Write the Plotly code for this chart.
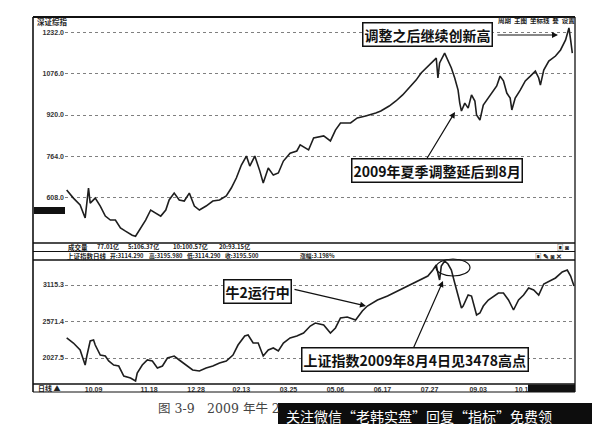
import plotly.graph_objects as go

# ---------------- data ----------------
# upper panel: 深证综指 (trading-day index, close)
upper_day = [1, 5, 9, 12, 14, 15, 18, 21, 24, 27,
             30, 33, 36, 40, 42, 45, 48, 51, 54, 57,
             60, 62, 65, 68, 71, 74, 77, 80, 84, 88,
             92, 96, 99, 102, 105, 108, 110, 113, 116, 118,
             121, 124, 127, 130, 134, 138, 140, 145, 148, 154,
             158, 161, 164, 170, 174, 179, 185, 188, 193, 197,
             201, 205, 209, 212, 215, 219, 221, 222, 223, 226,
             228, 230, 232, 234, 235, 236, 238, 240, 242, 244,
             245, 247, 249, 253, 257, 259, 261, 263, 265, 266,
             268, 271, 274, 277, 280, 282, 283, 285, 288, 292,
             295, 298, 300, 301, 302]
upper_val = [637, 606, 580, 531, 644, 587, 606, 576, 538, 523,
             523, 493, 481, 466, 462, 493, 523, 561, 550, 538,
             561, 599, 625, 599, 595, 625, 576, 561, 576, 595,
             599, 614, 644, 682, 731, 765, 727, 765, 708, 663,
             720, 693, 701, 746, 776, 784, 807, 788, 833, 841,
             822, 863, 890, 890, 909, 916, 928, 935, 954, 973,
             996, 1022, 1052, 1079, 1098, 1124, 1135, 1060, 1117, 1154,
             1128, 1098, 1060, 1014, 965, 935, 965, 946, 996, 973,
             920, 901, 958, 992, 1030, 1067, 1049, 1003, 984, 939,
             984, 1014, 1049, 1067, 1086, 1060, 1033, 1090, 1124, 1143,
             1166, 1204, 1249, 1204, 1154]

# lower panel: 上证指数 (trading-day index, close)
lower_day = [1, 5, 9, 12, 13, 15, 17, 18, 21, 24,
             26, 29, 32, 35, 39, 42, 43, 46, 49, 52,
             55, 58, 61, 65, 68, 72, 76, 80, 84, 88,
             92, 96, 100, 103, 107, 109, 112, 115, 118, 121,
             124, 127, 130, 134, 138, 142, 146, 149, 154, 158,
             161, 164, 168, 173, 177, 180, 186, 192, 198, 204,
             210, 216, 219, 221, 222, 223, 224, 226, 228, 230,
             232, 234, 236, 237, 240, 242, 245, 247, 249, 252,
             255, 258, 261, 264, 267, 270, 273, 276, 279, 282,
             285, 289, 292, 296, 299, 301, 303]
lower_val = [2326, 2251, 2147, 1923, 2057, 2281, 2296, 2221, 2072, 2057,
             1983, 1923, 1908, 1759, 1730, 1685, 1804, 1923, 1998, 1983,
             1879, 1908, 2028, 2057, 1998, 1923, 1849, 1834, 1879, 1908,
             1953, 1983, 2072, 2221, 2355, 2370, 2251, 2251, 2057, 2147,
             2177, 2132, 2251, 2326, 2355, 2400, 2504, 2549, 2519, 2400,
             2475, 2624, 2639, 2594, 2728, 2802, 2892, 2951, 3026, 3100,
             3175, 3249, 3339, 3413, 3294, 3190, 3398, 3473, 3428, 3339,
             3145, 2951, 2773, 2802, 2966, 2951, 2668, 2698, 2802, 2892,
             2951, 2996, 2996, 2892, 2743, 2892, 2966, 3071, 3041, 2966,
             3130, 3175, 3220, 3309, 3339, 3249, 3100]

upper_ticks = [1232.0, 1076.0, 920.0, 764.0, 608.0]
upper_tick_text = ["1232.0", "1076.0", "920.0", "764.0", "608.0"]
lower_ticks = [3115.3, 2571.4, 2027.5]
lower_tick_text = ["3115.3", "2571.4", "2027.5"]
date_ticks = [17, 50, 78, 105, 133, 161, 189, 217, 246, 273]
date_labels = ["10.09", "11.18", "12.28", "02.13", "03.25", "05.06",
               "06.17", "07.27", "09.03", "10.19"]

# ---------------- layout helpers ----------------
W, H = 600, 424
def px(x):
    return x / W
def py(y):
    return 1 - y / H

LINE = dict(color="#1e1e1e", width=1.6)
CJK = "Noto Sans CJK SC, sans-serif"
SMALL = dict(family="Liberation Sans, Arial, sans-serif", size=7, color="#333", weight="bold")

fig = go.Figure()
fig.add_trace(go.Scatter(x=upper_day, y=upper_val, mode="lines", line=LINE,
                         xaxis="x", yaxis="y", hoverinfo="skip"))
fig.add_trace(go.Scatter(x=lower_day, y=lower_val, mode="lines", line=LINE,
                         xaxis="x2", yaxis="y2", hoverinfo="skip"))

XR = [0, 303.6]
grid = dict(showgrid=True, gridcolor="#808080", griddash="dot", gridwidth=1,
            zeroline=False, showline=False, ticks="")
fig.update_layout(
    width=W, height=H, margin=dict(l=0, r=0, t=0, b=0),
    paper_bgcolor="white", plot_bgcolor="white", showlegend=False,
    font=dict(family=CJK, color="#222"),
    xaxis=dict(domain=[px(57), px(567)], range=XR, anchor="y", showticklabels=False,
               showgrid=False, zeroline=False, showline=False, ticks=""),
    yaxis=dict(domain=[py(234), py(10)], range=[440.1, 1286.7], tickvals=upper_ticks,
               ticktext=upper_tick_text, tickfont=SMALL, **grid),
    xaxis2=dict(domain=[px(57), px(567)], range=XR, anchor="y2", tickvals=date_ticks,
                ticktext=date_labels, tickfont=SMALL, showgrid=False, zeroline=False,
                showline=False, ticks=""),
    yaxis2=dict(domain=[py(376), py(252)], range=[1640.2, 3487.8], tickvals=lower_ticks,
                ticktext=lower_tick_text, tickfont=SMALL, **grid),
)

shapes = []
def hline(y, w=1.3, x0=25, x1=567):
    shapes.append(dict(type="line", xref="paper", yref="paper", x0=px(x0), x1=px(x1),
                       y0=py(y), y1=py(y), line=dict(color="#111", width=w)))
def vline(x, y0, y1, w=1.3):
    shapes.append(dict(type="line", xref="paper", yref="paper", x0=px(x), x1=px(x),
                       y0=py(y0), y1=py(y1), line=dict(color="#111", width=w)))
def rect(x0, y0, x1, y1, fill="#111", line=None):
    shapes.append(dict(type="rect", xref="paper", yref="paper", x0=px(x0), x1=px(x1),
                       y0=py(y0), y1=py(y1), fillcolor=fill,
                       line=dict(width=0) if line is None else line))

hline(9, 2)
hline(235, 1.5)
hline(243.5, 1)
hline(252, 1.5)
hline(376, 1.5)
hline(384, 1.2)
vline(25, 9, 384, 1.6)
vline(567, 9, 384, 1.3)
rect(26, 199, 57, 206)            # current value marker
rect(520, 376.5, 567, 384)        # bottom-right bar
shapes.append(dict(type="circle", xref="paper", yref="paper", x0=px(428), x1=px(462),
                   y0=py(268), y1=py(251), line=dict(color="#111", width=1.2)))
rect(270, 395, 600, 424, fill="#0d0d0d")   # watermark band
fig.update_layout(shapes=shapes)

ann = []
def text(x, y, s, size=7, color="#222", anchor="left", family=None, weight="bold"):
    ann.append(dict(xref="paper", yref="paper", x=px(x), y=py(y), text=s, showarrow=False,
                    xanchor=anchor, yanchor="middle",
                    font=dict(size=size, color=color, family=family or CJK, weight=weight)))
def box(x, y, s):
    ann.append(dict(xref="paper", yref="paper", x=px(x), y=py(y), text=s, showarrow=False,
                    xanchor="center", yanchor="middle", bgcolor="white",
                    bordercolor="#111", borderwidth=1.5, borderpad=1,
                    font=dict(size=14, color="#111", family=CJK, weight="bold")))
def arrow(hx, hy, tx, ty):
    ann.append(dict(xref="paper", yref="paper", x=px(hx), y=py(hy), ax=tx - hx, ay=ty - hy,
                    text="", showarrow=True, arrowhead=2, arrowsize=1, arrowwidth=1.2,
                    arrowcolor="#111"))

text(27, 13, "深证综指", size=7.5)
text(488, 12.5, "周期  主图  坐标线  叠  设置", size=6.5)
text(58, 239, "成交量", size=6.5)
text(87, 239, "77.01亿", size=6)
text(118, 239, "5:106.37亿", size=6)
text(163, 239, "10:100.57亿", size=6)
text(209, 239, "20:93.15亿", size=6)
text(57, 247.5, "上证指数日线", size=6.5)
text(100, 247.5, "开:3114.290", size=5.8)
text(139, 247.5, "高:3195.980", size=5.8)
text(177, 247.5, "低:3114.290", size=5.8)
text(215, 247.5, "收:3195.500", size=5.8)
text(290, 247.5, "涨幅:3.198%", size=5.8)
text(547, 239, "▣ ◙", size=6.5)
text(525, 247.5, "▣ ✎ ◙ ✕", size=6.5)
text(28, 380, "日线 ▲", size=7)

arrow(550, 27, 488, 27)
box(419, 27, "调整之后继续创新高")
arrow(447, 104, 418, 152)
box(429, 162, "2009年夏季调整延后到8月")
arrow(358, 298, 285, 281)
box(249, 283.5, "牛2运行中")
arrow(435, 273, 405, 341)
box(407, 351.5, "上证指数2009年8月4日见3478高点")

text(148, 400, "图 3-9　2009 年牛 2", size=12.5, color="#444", weight="normal",
     family="DejaVu Serif, Noto Sans CJK SC, serif")
text(276, 408, "关注微信“老韩实盘”回复“指标”免费领", size=14, color="white", weight="normal")
fig.update_layout(annotations=ann)

fig.write_html("out.html")
